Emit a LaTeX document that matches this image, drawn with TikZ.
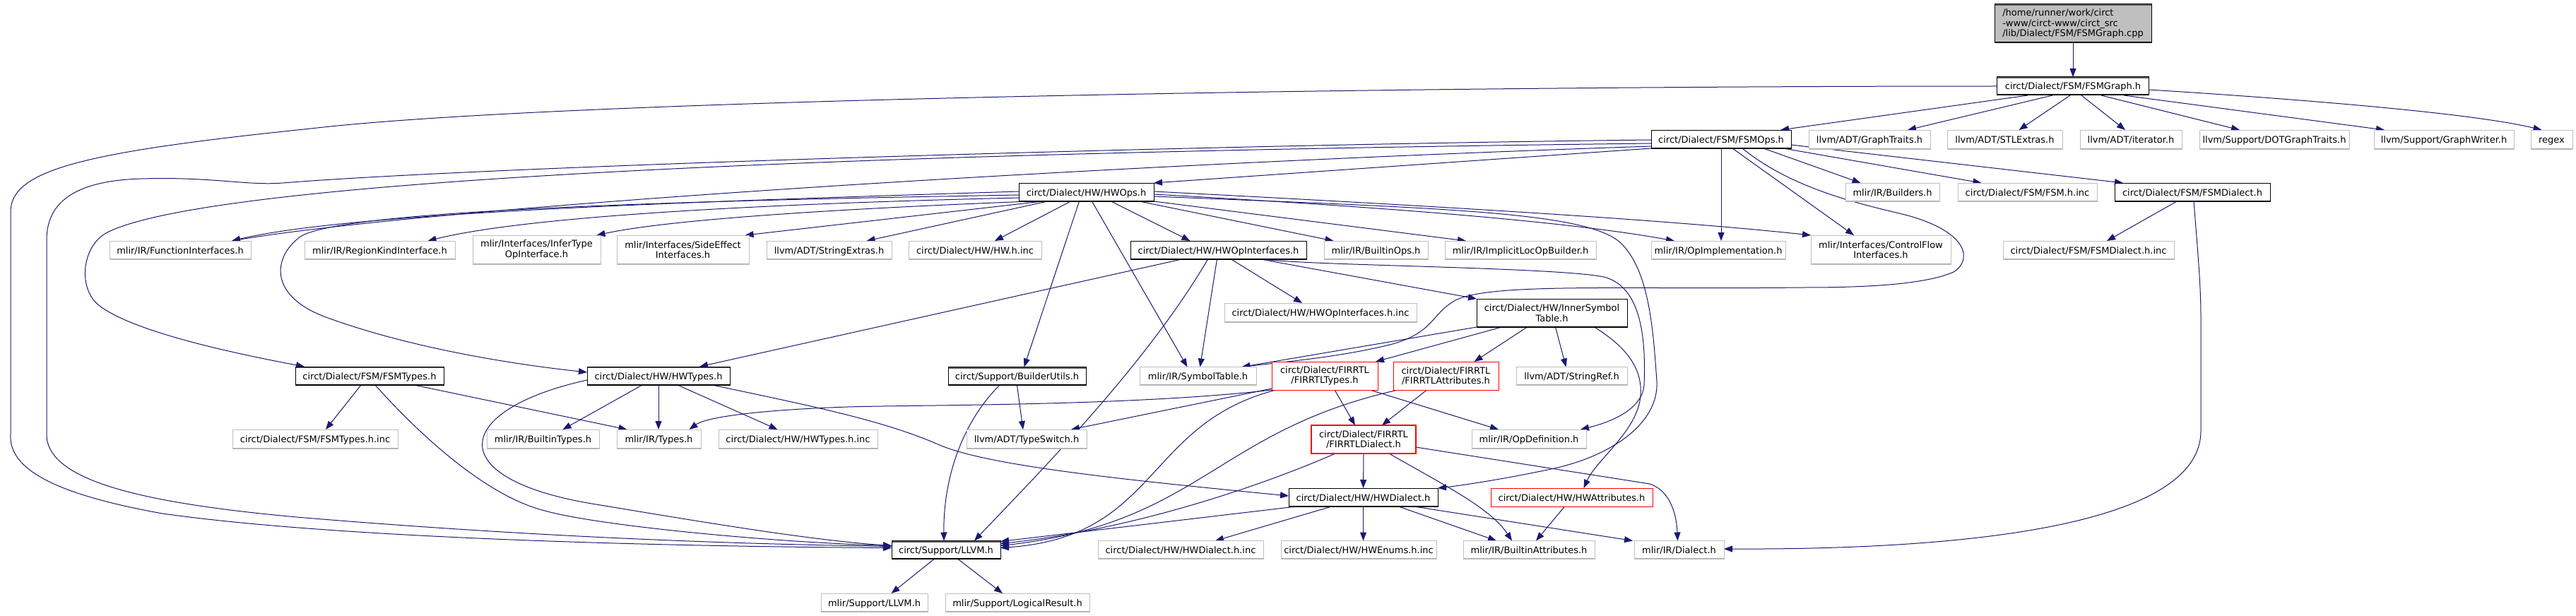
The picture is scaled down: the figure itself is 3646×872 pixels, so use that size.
\documentclass[tikz,border=0pt]{standalone}
\usepackage{fontspec}
\setmainfont{DejaVu Sans}
\usetikzlibrary{arrows.meta}
\definecolor{edgec}{HTML}{191970}
\definecolor{leafb}{HTML}{BFBFBF}
\definecolor{leafs}{HTML}{ABABAB}
\definecolor{rootf}{HTML}{BFBFBF}
\definecolor{topg}{HTML}{5A5A5A}
\pgfdeclarelayer{bg}
\pgfsetlayers{bg,main}
\tikzset{
 base/.style={rectangle, inner sep=0pt, outer sep=0pt, fill=white, line width=1pt, font=\fontsize{13pt}{14.5pt}\selectfont},
 one/.style={text height=12pt, text depth=2pt},
 two/.style={align=center},
 leaf/.style={base, draw=leafb, path picture={\draw[line width=3pt,draw=leafs] (path picture bounding box.south west) -- (path picture bounding box.south east);}},
 blk/.style={base, draw=black, path picture={\draw[line width=3pt,draw=black] (path picture bounding box.south west) -- (path picture bounding box.south east);}},
 blkt/.style={base, draw=black, path picture={\draw[line width=3pt,draw=black] (path picture bounding box.south west) -- (path picture bounding box.south east); \draw[line width=4pt,draw=topg] (path picture bounding box.north west) -- (path picture bounding box.north east);}},
 trunc/.style={base, draw=red},
 conn/.style={draw=edgec, line width=1pt, line join=round, -{Triangle[length=12pt,width=9pt]}},
}
\begin{document}
\begin{tikzpicture}[x=1pt,y=-1pt]
\begin{pgfonlayer}{bg}
\fill[white] (0,0) rectangle (3646,872);
\end{pgfonlayer}
\useasboundingbox (0,0) rectangle (3646,872);

% row 0-1
\node[blkt, fill=rootf, align=left, minimum width=222pt, minimum height=55pt] (root) at (2934,33.5) {/home/runner/work/circt\\-www/circt-www/circt\_src\\/lib/Dialect/FSM/FSMGraph.cpp};
\node[blkt, one, minimum width=215pt, minimum height=26pt] (fsmgraph) at (2934,122) {circt/Dialect/FSM/FSMGraph.h};
% row 2
\node[blk, one, minimum width=198pt, minimum height=26pt] (fsmops) at (2436,197) {circt/Dialect/FSM/FSMOps.h};
\node[leaf, one, minimum width=172pt, minimum height=27pt] (graphtraits) at (2646,197.5) {llvm/ADT/GraphTraits.h};
\node[leaf, one, minimum width=163pt, minimum height=27pt] (stlextras) at (2837.5,197.5) {llvm/ADT/STLExtras.h};
\node[leaf, one, minimum width=144pt, minimum height=27pt] (iterator) at (3016,197.5) {llvm/ADT/iterator.h};
\node[leaf, one, minimum width=212pt, minimum height=27pt] (dotgraph) at (3219,197.5) {llvm/Support/DOTGraphTraits.h};
\node[leaf, one, minimum width=198pt, minimum height=27pt] (graphwriter) at (3459,197.5) {llvm/Support/GraphWriter.h};
\node[leaf, one, minimum width=59pt, minimum height=27pt] (regex) at (3611.5,197.5) {regex};
% row 3
\node[blk, one, minimum width=191pt, minimum height=26pt] (hwops) at (1537.5,272) {circt/Dialect/HW/HWOps.h};
\node[leaf, one, minimum width=133pt, minimum height=26pt] (builders) at (2678.5,272) {mlir/IR/Builders.h};
\node[leaf, one, minimum width=197pt, minimum height=26pt] (fsmhinc) at (2869.5,272) {circt/Dialect/FSM/FSM.h.inc};
\node[blk, one, minimum width=220pt, minimum height=26pt] (fsmdialect) at (3103,272) {circt/Dialect/FSM/FSMDialect.h};
% row 4
\node[leaf, one, minimum width=200pt, minimum height=26pt] (funcif) at (255,354) {mlir/IR/FunctionInterfaces.h};
\node[leaf, one, minimum width=213pt, minimum height=26pt] (regionkind) at (537.5,354) {mlir/IR/RegionKindInterface.h};
\node[leaf, two, minimum width=181pt, minimum height=41pt] (infertype) at (759.5,353.5) {mlir/Interfaces/InferType\\OpInterface.h};
\node[leaf, two, minimum width=187pt, minimum height=41pt] (sideeffect) at (966.5,353.5) {mlir/Interfaces/SideEffect\\Interfaces.h};
\node[leaf, one, minimum width=177pt, minimum height=26pt] (stringextras) at (1173.5,354) {llvm/ADT/StringExtras.h};
\node[leaf, one, minimum width=188pt, minimum height=26pt] (hwhinc) at (1380,354) {circt/Dialect/HW/HW.h.inc};
\node[blk, one, minimum width=249pt, minimum height=26pt] (hwopif) at (1724.5,354) {circt/Dialect/HW/HWOpInterfaces.h};
\node[leaf, one, minimum width=147pt, minimum height=26pt] (builtinops) at (1947.5,354) {mlir/IR/BuiltinOps.h};
\node[leaf, one, minimum width=214pt, minimum height=26pt] (implicitloc) at (2152,354) {mlir/IR/ImplicitLocOpBuilder.h};
\node[leaf, one, minimum width=190pt, minimum height=26pt] (opimpl) at (2432,354) {mlir/IR/OpImplementation.h};
\node[leaf, two, minimum width=198pt, minimum height=41pt] (controlflow) at (2662,353.5) {mlir/Interfaces/ControlFlow\\Interfaces.h};
\node[leaf, one, minimum width=242pt, minimum height=26pt] (fsmdialectinc) at (2956,354) {circt/Dialect/FSM/FSMDialect.h.inc};
% row 5
\node[leaf, one, minimum width=272pt, minimum height=27pt] (hwopifinc) at (1869,442.5) {circt/Dialect/HW/HWOpInterfaces.h.inc};
\node[blk, two, minimum width=213pt, minimum height=40pt] (innersym) at (2196.5,443) {circt/Dialect/HW/InnerSymbol\\Table.h};
% row 6
\node[blkt, one, minimum width=210pt, minimum height=26pt] (fsmtypes) at (523,532) {circt/Dialect/FSM/FSMTypes.h};
\node[blkt, one, minimum width=202pt, minimum height=26pt] (hwtypes) at (932,532) {circt/Dialect/HW/HWTypes.h};
\node[blkt, one, minimum width=195pt, minimum height=26pt] (builderutils) at (1439.5,532.5) {circt/Support/BuilderUtils.h};
\node[leaf, one, minimum width=165pt, minimum height=26pt] (symboltable) at (1695.5,532.5) {mlir/IR/SymbolTable.h};
\node[trunc, two, minimum width=150pt, minimum height=40pt] (firrtltypes) at (1875,532) {circt/Dialect/FIRRTL\\/FIRRTLTypes.h};
\node[trunc, two, minimum width=149pt, minimum height=40pt] (firrtlattr) at (2046.5,532) {circt/Dialect/FIRRTL\\/FIRRTLAttributes.h};
\node[leaf, one, minimum width=157pt, minimum height=26pt] (stringref) at (2224.5,532.5) {llvm/ADT/StringRef.h};
% row 7
\node[leaf, one, minimum width=234pt, minimum height=27pt] (fsmtypesinc) at (446,621.5) {circt/Dialect/FSM/FSMTypes.h.inc};
\node[leaf, one, minimum width=159pt, minimum height=27pt] (builtintypes) at (768.5,621.5) {mlir/IR/BuiltinTypes.h};
\node[leaf, one, minimum width=119pt, minimum height=27pt] (types) at (932.5,621.5) {mlir/IR/Types.h};
\node[leaf, one, minimum width=225pt, minimum height=27pt] (hwtypesinc) at (1129.5,621.5) {circt/Dialect/HW/HWTypes.h.inc};
\node[leaf, one, minimum width=170pt, minimum height=27pt] (typeswitch) at (1453,621.5) {llvm/ADT/TypeSwitch.h};
\node[trunc, two, line width=1.6pt, minimum width=148pt, minimum height=40pt] (firrtldialect) at (1930,622) {circt/Dialect/FIRRTL\\/FIRRTLDialect.h};
\node[leaf, one, minimum width=162pt, minimum height=27pt] (opdef) at (2164,621.5) {mlir/IR/OpDefinition.h};
% row 8
\node[blk, one, minimum width=211pt, minimum height=26pt] (hwdialect) at (1929.5,704) {circt/Dialect/HW/HWDialect.h};
\node[trunc, one, minimum width=229pt, minimum height=26pt] (hwattr) at (2224.5,704) {circt/Dialect/HW/HWAttributes.h};
% row 9
\node[blkt, one, minimum width=154pt, minimum height=26pt] (llvm) at (1339,778.5) {circt/Support/LLVM.h};
\node[leaf, one, minimum width=234pt, minimum height=26pt] (hwdialectinc) at (1671,778.5) {circt/Dialect/HW/HWDialect.h.inc};
\node[leaf, one, minimum width=220pt, minimum height=26pt] (hwenums) at (1923,778.5) {circt/Dialect/HW/HWEnums.h.inc};
\node[leaf, one, minimum width=186pt, minimum height=26pt] (builtinattr) at (2164,778.5) {mlir/IR/BuiltinAttributes.h};
\node[leaf, one, minimum width=127pt, minimum height=26pt] (dialect) at (2376.5,778.5) {mlir/IR/Dialect.h};
% row 10
\node[leaf, one, minimum width=151pt, minimum height=26pt] (mlirllvm) at (1237.5,853) {mlir/Support/LLVM.h};
\node[leaf, one, minimum width=204pt, minimum height=26pt] (logicalresult) at (1440,853) {mlir/Support/LogicalResult.h};

\begin{pgfonlayer}{bg}
% root / FSMGraph
\draw[conn] (root.south) -- (fsmgraph.north);
\draw[conn] ([xshift=-64pt]fsmgraph.south) -- ([xshift=84pt]fsmops.north);
\draw[conn] ([xshift=-29pt]fsmgraph.south) -- ([xshift=54pt]graphtraits.north);
\draw[conn] ([xshift=-4pt]fsmgraph.south) -- ([xshift=20pt]stlextras.north);
\draw[conn] ([xshift=12pt]fsmgraph.south) -- ([xshift=-8pt]iterator.north);
\draw[conn] ([xshift=40pt]fsmgraph.south) -- ([xshift=-49pt]dotgraph.north);
\draw[conn] ([xshift=72pt]fsmgraph.south) -- ([xshift=-84pt]graphwriter.north);
\draw[conn] ([yshift=-5pt]fsmgraph.east) .. controls (3250,140) and (3500,160) .. ([xshift=-14pt]regex.north);
\draw[conn] (fsmgraph.west) .. controls (2000,122) and (800,140) .. (440,182) .. controls (120,215) and (15,240) .. (15,300) -- (15,615) .. controls (12,665) and (80,700) .. (230,727) .. controls (500,765) and (1000,774) .. ([yshift=3pt]llvm.west);
% FSMOps
\draw[conn] ([yshift=-1pt]fsmops.west) .. controls (1700,205) and (700,235) .. (400,259) .. controls (350,263) and (300,250) .. (200,253) .. controls (100,256) and (66,290) .. (66,340) -- (66,615) .. controls (66,680) and (200,712) .. (420,732) .. controls (800,764) and (1100,771) .. ([yshift=5pt]llvm.west);
\draw[conn] ([yshift=-6pt]fsmops.west) .. controls (1300,215) and (300,250) .. (150,330) .. controls (115,350) and (110,410) .. (141,433) .. controls (190,470) and (330,500) .. ([xshift=-92pt]fsmtypes.north);
\draw[conn] ([yshift=-10pt]fsmops.west) .. controls (1500,235) and (600,295) .. ([xshift=73pt]funcif.north);
\draw[conn] (fsmops.south west) -- (hwops.north east);
\draw[conn] (fsmops.south) -- ([xshift=4pt]opimpl.north);
\draw[conn] ([xshift=16pt]fsmops.south) -- ([xshift=-38pt]controlflow.north);
\draw[conn] ([xshift=30pt]fsmops.south) .. controls (2540,270) and (2640,290) .. (2700,305) .. controls (2790,330) and (2790,370) .. (2765,385) .. controls (2720,405) and (2620,407) .. (2550,407) .. controls (2300,410) and (2110,400) .. (2060,425) .. controls (2025,445) and (2030,470) .. (1971,487) .. controls (1900,505) and (1820,512) .. ([xshift=62pt]symboltable.north);
\draw[conn] ([xshift=60pt]fsmops.south) -- ([xshift=-45pt]builders.north);
\draw[conn] ([xshift=88pt]fsmops.south) -- ([xshift=-65pt]fsmhinc.north);
\draw[conn] ([yshift=-8pt]fsmops.east) -- ([xshift=12pt]fsmdialect.north west);
% FSMDialect
\draw[conn] ([xshift=-22pt]fsmdialect.south) -- ([xshift=26pt]fsmdialectinc.north);
\draw[conn] ([xshift=2pt]fsmdialect.south) .. controls (3110,350) and (3115,400) .. (3115,450) -- (3115,610) .. controls (3115,760) and (2700,778) .. ([yshift=1.5pt]dialect.east);
% HWOps
\draw[conn] ([yshift=1pt]hwops.west) .. controls (1000,285) and (500,300) .. ([xshift=73pt]funcif.north);
\draw[conn] ([yshift=-4pt]hwops.west) .. controls (900,285) and (480,300) .. (425,335) .. controls (385,365) and (380,420) .. (464,450) .. controls (580,492) and (720,515) .. ([yshift=5pt]hwtypes.west);
\draw[conn] ([yshift=-8pt]hwops.west) .. controls (1100,288) and (750,305) .. ([xshift=68pt]regionkind.north);
\draw[conn] ([xshift=-80pt]hwops.south) .. controls (1200,295) and (950,310) .. ([xshift=85pt]infertype.north);
\draw[conn] ([xshift=-62pt]hwops.south) -- ([xshift=88pt]sideeffect.north);
\draw[conn] ([xshift=-55pt]hwops.south) -- ([xshift=53pt]stringextras.north);
\draw[conn] ([xshift=-22pt]hwops.south) -- ([xshift=28pt]hwhinc.north);
\draw[conn] ([xshift=-10pt]hwops.south) -- ([xshift=10pt]builderutils.north);
\draw[conn] ([xshift=8pt]hwops.south) -- ([xshift=-15pt]symboltable.north);
\draw[conn] ([xshift=35pt]hwops.south) -- ([xshift=-40pt]hwopif.north);
\draw[conn] ([xshift=75pt]hwops.south) -- ([xshift=-60pt]builtinops.north);
\draw[conn] (hwops.south east) -- ([xshift=-77pt]implicitloc.north);
\draw[conn] ([yshift=-3pt]hwops.east) .. controls (1900,290) and (2200,310) .. ([xshift=-62pt]opimpl.north);
\draw[conn] ([yshift=1pt]hwops.east) .. controls (2000,290) and (2350,310) .. (controlflow.north west);
\draw[conn] ([yshift=-6pt]hwops.east) .. controls (2050,295) and (2250,300) .. (2295,345) .. controls (2335,385) and (2340,470) .. (2345,540) .. controls (2348,600) and (2280,645) .. (2200,663) .. controls (2130,678) and (2070,687) .. (hwdialect.north east);
% HWOpInterfaces
\draw[conn] ([xshift=-52pt]hwopif.south) -- ([xshift=58pt]hwtypes.north);
\draw[conn] ([xshift=-15pt]hwopif.south) .. controls (1620,520) and (1460,680) .. ([xshift=40pt]llvm.north);
\draw[conn] ([xshift=-2pt]hwopif.south) -- ([xshift=3pt]symboltable.north);
\draw[conn] ([xshift=18pt]hwopif.south) -- ([xshift=-26pt]hwopifinc.north);
\draw[conn] ([xshift=60pt]hwopif.south) -- (innersym.north west);
\draw[conn] ([xshift=65pt]hwopif.south) .. controls (1850,376) and (2200,378) .. (2270,392) .. controls (2320,405) and (2330,470) .. (2327,545) .. controls (2325,575) and (2290,595) .. ([xshift=73pt]opdef.north);
% InnerSymbolTable
\draw[conn] (innersym.south west) -- ([xshift=62pt]symboltable.north);
\draw[conn] ([xshift=-71pt]innersym.south) -- ([xshift=72pt]firrtltypes.north);
\draw[conn] ([xshift=-35pt]innersym.south) -- ([xshift=40pt]firrtlattr.north);
\draw[conn] ([xshift=5pt]innersym.south) -- ([xshift=-8pt]stringref.north);
\draw[conn] ([xshift=60pt]innersym.south) .. controls (2300,490) and (2325,520) .. (2322,560) .. controls (2318,610) and (2260,650) .. ([xshift=17pt]hwattr.north);
% FIRRTL
\draw[conn] (firrtltypes.south west) .. controls (1600,575) and (1300,573) .. (1200,576) .. controls (1080,580) and (1000,590) .. ([xshift=43pt]types.north);
\draw[conn] ([yshift=2pt]firrtltypes.south west) -- ([xshift=63pt]typeswitch.north);
\draw[conn] ([xshift=-69pt]firrtltypes.south) .. controls (1620,600) and (1640,760) .. ([yshift=3pt]llvm.east);
\draw[conn] ([xshift=14pt]firrtltypes.south) -- ([xshift=-12pt]firrtldialect.north);
\draw[conn] ([xshift=64pt]firrtltypes.south) -- ([xshift=-43pt]opdef.north);
\draw[conn] ([xshift=-27pt]firrtlattr.south) -- ([xshift=26pt]firrtldialect.north);
\draw[conn] ([xshift=-68pt]firrtlattr.south) .. controls (1720,610) and (1700,740) .. ([yshift=6pt]llvm.east);
\draw[conn] (firrtldialect.south) -- (hwdialect.north);
\draw[conn] ([xshift=-40pt]firrtldialect.south) .. controls (1780,690) and (1600,750) .. ([yshift=9pt]llvm.east);
\draw[conn] ([xshift=36pt]firrtldialect.south) .. controls (2050,690) and (2110,720) .. ([xshift=-24pt]builtinattr.north);
\draw[conn] ([yshift=-11pt]firrtldialect.east) -- (2335,685) .. controls (2365,695) and (2373,730) .. ([xshift=-2pt]dialect.north);
% HWDialect
\draw[conn] ([xshift=-95pt]hwdialect.south) -- ([yshift=12pt]llvm.east);
\draw[conn] ([xshift=-45pt]hwdialect.south) -- ([xshift=49pt]hwdialectinc.north);
\draw[conn] (hwdialect.south) -- ([xshift=6.5pt]hwenums.north);
\draw[conn] ([xshift=50pt]hwdialect.south) -- ([xshift=-46pt]builtinattr.north);
\draw[conn] ([xshift=72pt]hwdialect.south) -- ([xshift=-2pt]dialect.north west);
\draw[conn] ([xshift=-10pt]hwattr.south) -- ([xshift=10pt]builtinattr.north);
% HWTypes
\draw[conn] ([xshift=-23pt]hwtypes.south) -- ([xshift=28pt]builtintypes.north);
\draw[conn] (hwtypes.south) -- ([xshift=-0.5pt]types.north);
\draw[conn] ([xshift=27pt]hwtypes.south) -- ([xshift=-29pt]hwtypesinc.north);
\draw[conn] ([yshift=-6pt]hwtypes.west) .. controls (640,580) and (620,680) .. (850,715) .. controls (1000,740) and (1150,765) .. ([yshift=6pt]llvm.west);
\draw[conn] ([xshift=76pt]hwtypes.south) .. controls (1150,575) and (1250,595) .. (1330,630) .. controls (1400,660) and (1600,680) .. ([yshift=2pt]hwdialect.west);
% FSMTypes
\draw[conn] ([xshift=-12pt]fsmtypes.south) -- ([xshift=15pt]fsmtypesinc.north);
\draw[conn] ([xshift=63pt]fsmtypes.south) -- ([xshift=-45pt]types.north);
\draw[conn] ([xshift=8pt]fsmtypes.south) .. controls (580,600) and (680,700) .. (771,723) .. controls (850,745) and (1100,768) .. ([yshift=6pt]llvm.west);
% BuilderUtils
\draw[conn] (builderutils.south) -- ([xshift=-5pt]typeswitch.north);
\draw[conn] ([xshift=-25pt]builderutils.south) .. controls (1360,600) and (1335,680) .. ([xshift=-3pt]llvm.north);
% LLVM
\draw[conn] ([xshift=-17pt]llvm.south) -- ([xshift=24pt]mlirllvm.north);
\draw[conn] ([xshift=17pt]llvm.south) -- ([xshift=-21pt]logicalresult.north);
\end{pgfonlayer}
\end{tikzpicture}
\end{document}
